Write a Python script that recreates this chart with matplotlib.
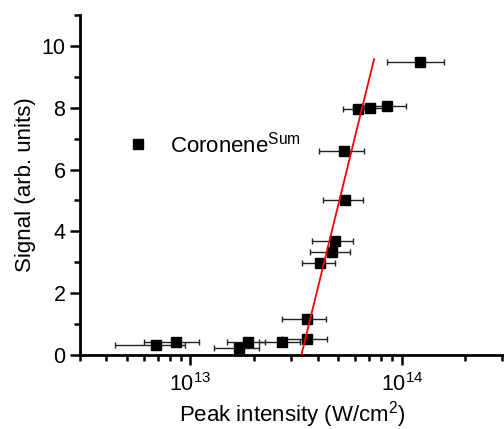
import numpy as np
import matplotlib
matplotlib.use("Agg")
import matplotlib.pyplot as plt
from matplotlib.ticker import MultipleLocator, LogLocator
from matplotlib.lines import Line2D

plt.rcParams['font.family'] = 'Liberation Sans'
plt.rcParams['mathtext.fontset'] = 'custom'
plt.rcParams['mathtext.rm'] = 'Liberation Sans'
plt.rcParams['mathtext.it'] = 'Liberation Sans'
plt.rcParams['mathtext.default'] = 'regular'

# peak intensity (W/cm2), signal and intensity error
intensity = [6.9e12, 8.5e12, 1.7e13, 1.87e13, 2.71e13, 3.57e13, 3.55e13, 4.10e13,
             4.69e13, 4.81e13, 5.41e13, 5.36e13, 6.18e13, 7.08e13, 8.49e13, 1.22e14]
signal = [0.32, 0.43, 0.24, 0.43, 0.43, 0.52, 1.17, 2.99,
          3.34, 3.68, 5.02, 6.61, 7.97, 8.0, 8.06, 9.49]
intensity_err = [2.5e12, 2.5e12, 0.41e13, 0.38e13, 0.6e13, 0.85e13, 0.85e13, 0.73e13,
                 1.0e13, 1.06e13, 1.17e13, 1.3e13, 0.9e13, 1.2e13, 2.0e13, 0.37e14]

fit_x = [3.35e13, 7.4e13]
fit_y = [0.0, 9.57]

fig = plt.figure(figsize=(5.04, 4.29), dpi=100)
ax = fig.add_axes([0.1587, 0.1725, 0.8413, 0.7925])

ax.errorbar(intensity, signal, xerr=intensity_err, fmt='none', ecolor='#222222',
            elinewidth=1.0, capsize=2.2, capthick=1.0, zorder=2)
ax.plot(intensity, signal, 's', color='black', ms=6.5, zorder=3)
ax.plot(fit_x, fit_y, color='red', lw=1.3, zorder=4)

ax.set_xscale('log')
ax.set_xlim(3e12, 3.05e14)
ax.set_ylim(0, 11)
ax.yaxis.set_major_locator(MultipleLocator(2))
ax.yaxis.set_minor_locator(MultipleLocator(1))
ax.xaxis.set_major_locator(LogLocator(base=10))
ax.xaxis.set_minor_locator(LogLocator(base=10, subs=np.arange(2, 10)))

for s in ['top', 'right']:
    ax.spines[s].set_visible(False)
for s in ['left', 'bottom']:
    ax.spines[s].set_linewidth(2)

ax.tick_params(which='major', direction='out', length=7, width=1.8, labelsize=15.5)
ax.tick_params(which='minor', direction='out', length=4, width=1.8)
ax.tick_params(axis='x', pad=6)

ax.set_xlabel('Peak intensity (W/cm$^2$)', fontsize=16, labelpad=2)
ax.set_ylabel('Signal (arb. units)', fontsize=16, labelpad=4)

handle = Line2D([], [], ls='none', marker='s', color='black', ms=6.5)
ax.legend([handle], ['Coronene$^{Sum}$'], loc='center left', bbox_to_anchor=(0.05, 0.62),
          frameon=False, fontsize=16, handlelength=1.5, handletextpad=0.7)

fig.savefig('out.png', dpi=100)
